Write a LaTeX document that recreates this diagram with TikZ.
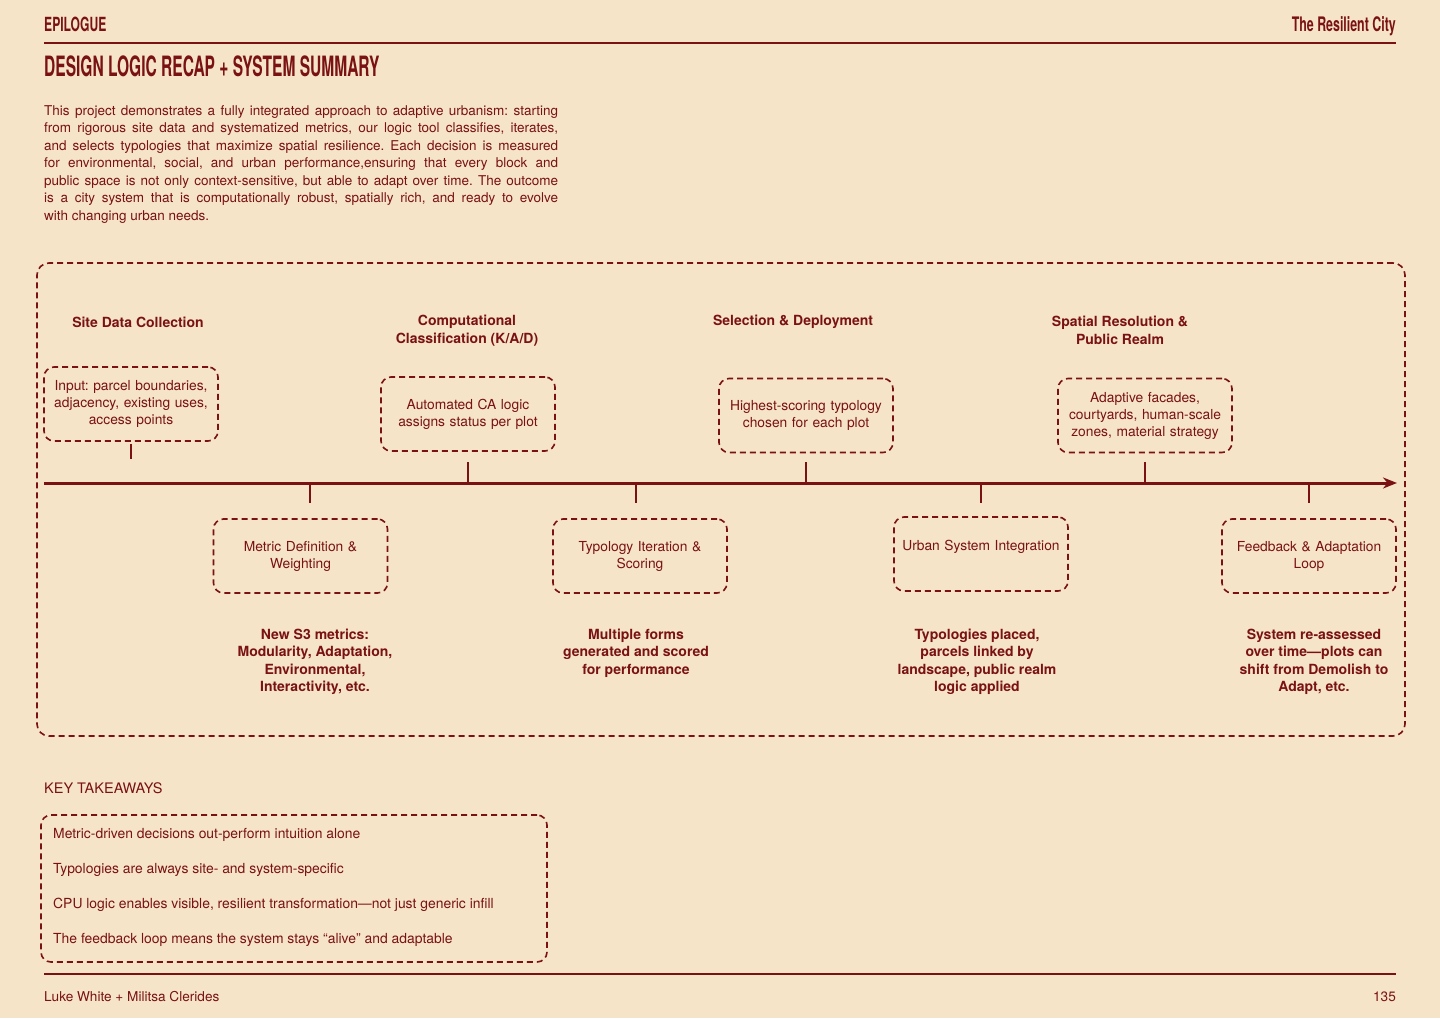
\documentclass[tikz,border=0pt]{standalone}
\usepackage{fontspec}
\setmainfont{TeX Gyre Heros}
\newfontfamily\headfont[FakeStretch=0.62]{TeX Gyre Heros}
\newfontfamily\titlefont[FakeStretch=0.555]{TeX Gyre Heros}
\usetikzlibrary{arrows.meta, positioning}
\usepackage{xcolor}
\definecolor{paper}{RGB}{245,228,199}
\definecolor{wine}{RGB}{122,17,19}
\frenchspacing

\tikzset{
  dbox/.style={draw=wine, dash pattern=on 6pt off 4pt, line width=1.6pt,
    rounded corners=10pt, minimum width=174pt, minimum height=74pt,
    text width=168pt, align=center, inner sep=0pt,
    font=\fontsize{13.8}{17}\selectfont},
  stage/.style={font=\bfseries\fontsize{14}{17.5}\selectfont, align=center, inner sep=0pt},
  note/.style={font=\bfseries\fontsize{14}{17.5}\selectfont, align=center, inner sep=0pt},
  tickline/.style={line width=1.8pt},
  plain/.style={font=\fontsize{13.9}{15}\selectfont, inner sep=0pt}
}

\begin{document}
\begin{tikzpicture}[x=1pt, y=-1pt, color=wine, text=wine]
  \useasboundingbox (0,0) rectangle (1440,1018);
  \fill[paper] (0,0) rectangle (1440,1018);

  % header
  \node[anchor=base west, inner sep=0pt, font=\headfont\bfseries\fontsize{19.5}{20}\selectfont] (chap) at (44,31) {EPILOGUE};
  \node[anchor=base east, inner sep=0pt, font=\headfont\bfseries\fontsize{20}{20}\selectfont] (book) at (1396,31) {The Resilient City};
  \coordinate (hl) at (44,43);
  \coordinate (hr) at (1396,43);
  \draw[line width=1.8pt] (hl) -- (hr);
  \node[anchor=base west, inner sep=0pt, font=\titlefont\bfseries\fontsize{28}{30}\selectfont] (title) at (44,76) {DESIGN LOGIC RECAP + SYSTEM SUMMARY};

  \node[anchor=north west, inner sep=0pt, text width=514pt, align=justify,
        font=\fontsize{13.5}{17.5}\selectfont] (intro) at (44,105)
    {This project demonstrates a fully integrated approach to adaptive urbanism: starting\linebreak
     from rigorous site data and systematized metrics, our logic tool classifies, iterates,\linebreak
     and selects typologies that maximize spatial resilience. Each decision is measured\linebreak
     for environmental, social, and urban performance,ensuring that every block and\linebreak
     public space is not only context-sensitive, but able to adapt over time. The outcome\linebreak
     is a city system that is computationally robust, spatially rich, and ready to evolve\linebreak
     with changing urban needs.};

  % timeline frame
  \node[dbox, minimum width=1368pt, minimum height=473pt, rounded corners=12pt] (frame) at (721,499.5) {};

  \node[stage] (s1) at (138,322) {Site Data Collection};
  \node[stage] (s2) at (467,330.5) {Computational\\Classification (K/A/D)};
  \node[stage] (s3) at (793,322) {Selection \& Deployment};
  \node[stage] (s4) at (1120,330.5) {Spatial Resolution \&\\Public Realm};

  \node[dbox] (in) at (131,404) {Input: parcel boundaries,\\adjacency, existing uses,\\access points};
  \node[dbox] (ca) at (468,414) {Automated CA logic\\assigns status per plot};
  \node[dbox] (hs) at (806,415.5) {Highest-scoring typology\\chosen for each plot};
  \node[dbox] (af) at (1145,415.5) {Adaptive facades,\\courtyards, human-scale\\zones, material strategy};

  \node[dbox] (md) at (300.5,556) {Metric Definition \&\\Weighting};
  \node[dbox] (tf) at (640,556) {Typology Iteration \&\\Scoring};
  \node[dbox] (us) at (981,554) {Urban System Integration\\ \mbox{}};
  \node[dbox] (fb) at (1309,556) {Feedback \& Adaptation\\Loop};

  \coordinate (axl) at (44,483);
  \coordinate (axr) at (1397,483);
  \draw[line width=3pt, -{Stealth[length=14pt, width=11pt]}] (axl) -- (axr);

  \draw[tickline] (in.south) ++(0,2) -- ++(0,15);
  \foreach \b in {ca,hs,af}
    \draw[tickline] (\b.south |- axl) -- ++(0,-21);
  \draw[tickline] ([xshift=9.5pt]md.north |- axl) -- ++(0,20);
  \draw[tickline] ([xshift=-4pt]tf.north |- axl) -- ++(0,20);
  \foreach \b in {us,fb}
    \draw[tickline] (\b.north |- axl) -- ++(0,20);

  \node[note] (n1) at (315,662) {New S3 metrics:\\Modularity, Adaptation,\\Environmental,\\Interactivity, etc.};
  \node[note] (n2) at (636,653) {Multiple forms\\generated and scored\\for performance};
  \node[note] (n3) at (977,662) {Typologies placed,\\parcels linked by\\landscape, public realm\\logic applied};
  \node[note] (n4) at (1314,662) {System re-assessed\\over time---plots can\\shift from Demolish to\\Adapt, etc.};

  % takeaways
  \node[plain, anchor=west, font=\fontsize{14.5}{15}\selectfont] (kt) at (44,788) {KEY TAKEAWAYS};
  \node[dbox, minimum width=506pt, minimum height=147pt] (kbox) at (294,888.5) {};
  \node[plain, anchor=base west] (k1) at (53,838) {Metric-driven decisions out-perform intuition alone};
  \node[plain, anchor=base west] (k2) at (53,873) {Typologies are always site- and system-specific};
  \node[plain, anchor=base west] (k3) at (53,908) {CPU logic enables visible, resilient transformation---not just generic infill};
  \node[plain, anchor=base west] (k4) at (53,943) {The feedback loop means the system stays “alive” and adaptable};

  % footer
  \coordinate (fl) at (44,974);
  \coordinate (fr) at (1396,974);
  \draw[line width=1.8pt] (fl) -- (fr);
  \node[plain, anchor=base west, font=\fontsize{13.6}{15}\selectfont] (auth) at (44,1001) {Luke White + Militsa Clerides};
  \node[plain, anchor=base east, font=\fontsize{13.6}{15}\selectfont] (page) at (1396,1001) {135};
\end{tikzpicture}
\end{document}
